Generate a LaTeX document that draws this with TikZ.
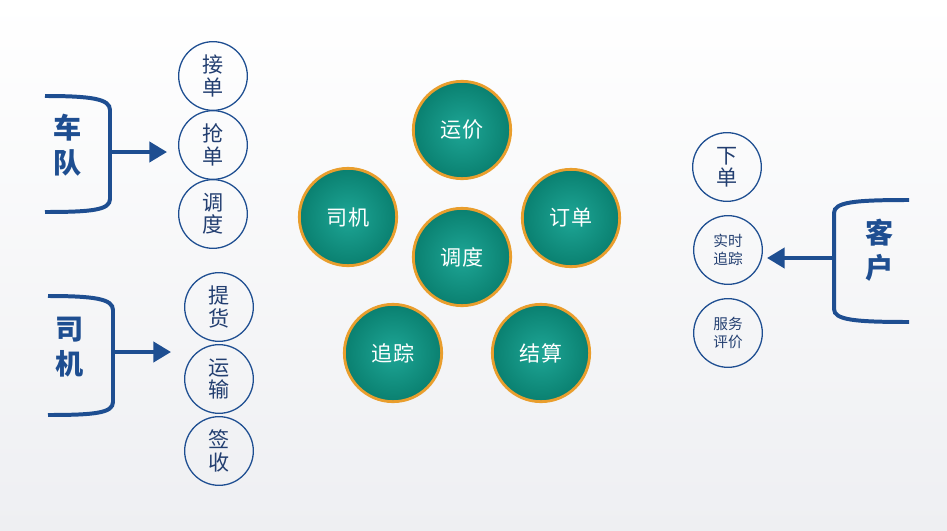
\documentclass[tikz,border=0pt]{standalone}
\usepackage{fontspec}
\newfontfamily\cjk{Noto Sans CJK SC}
\usetikzlibrary{arrows.meta}

\definecolor{linkblue}{RGB}{30,78,145}
\definecolor{inkblue}{RGB}{34,62,112}
\definecolor{hubteal}{RGB}{10,128,112}
\definecolor{hubglow}{RGB}{30,166,150}
\definecolor{hubrim}{RGB}{233,158,45}
\definecolor{paper}{RGB}{238,239,242}

\tikzset{
  ring/.style={circle, draw=linkblue, line width=1.1pt, minimum size=2.06cm, inner sep=0pt,
    align=center, text=inkblue, font=\cjk\fontsize{18}{19}\selectfont},
  smallring/.style={ring, font=\cjk\fontsize{12.5}{15}\selectfont},
  hub/.style={circle, draw=hubrim, line width=2.4pt, minimum size=2.92cm, inner sep=0pt,
    shading=radial, inner color=hubglow, outer color=hubteal,
    text=white, font=\cjk\fontsize{18}{20}\selectfont},
  bracket/.style={draw=linkblue, line width=3.4pt, line cap=butt},
  feed/.style={linkblue, line width=3.4pt, -{Triangle[length=15pt,width=17pt]}},
  tag/.style={align=center, text=linkblue, font=\cjk\bfseries\fontsize{24}{30}\selectfont}
}

\begin{document}
\begin{tikzpicture}[x=0.03cm, y=-0.03cm]
  \useasboundingbox (0,0) rectangle (947,531);
  \shade[top color=white, bottom color=paper] (0,0) rectangle (947,531);

  % fleet
  \draw[bracket] (45,96) .. controls (92,96) and (110,99) .. (110,110) -- (110,199)
    .. controls (110,210) and (92,212) .. (45,212);
  \coordinate (fleetmid) at (110,152);
  \node[tag] (fleet) at (68,145) {车\\队};
  \node[ring] (accept) at (213,76) {接\\单};
  \node[ring] (grab) at (213,145) {抢\\单};
  \node[ring] (assign) at (213,214) {调\\度};
  \draw[feed, shorten >=0.33cm] (fleetmid) -- (fleetmid -| grab.west);

  % driver
  \draw[bracket] (48,296) .. controls (95,296) and (113,299) .. (113,310) -- (113,402)
    .. controls (113,413) and (95,415) .. (48,415);
  \coordinate (drivermid) at (113,352);
  \node[tag] (driver) at (70,347) {司\\机};
  \node[ring] (pickup) at (219,307) {提\\货};
  \node[ring] (haul) at (219,379) {运\\输};
  \node[ring] (signoff) at (219,451) {签\\收};
  \draw[feed, shorten >=0.39cm] (drivermid) -- (drivermid -| haul.west);

  % hub
  \node[hub] (price) at (462,130) {运价};
  \node[hub] (drv) at (348,217) {司机};
  \node[hub] (order) at (571,218) {订单};
  \node[hub] (dispatch) at (462,257) {调度};
  \node[hub] (track) at (393,353) {追踪};
  \node[hub] (settle) at (541,353) {结算};

  % customer
  \draw[bracket] (909,200) .. controls (855,200) and (834,202) .. (834,213) -- (834,309)
    .. controls (834,320) and (855,322) .. (909,322);
  \coordinate (custmid) at (834,258);
  \node[tag] (cust) at (880,250) {客\\户};
  \node[ring] (place) at (727,167) {下\\单};
  \node[smallring] (live) at (728,250) {实时\\追踪};
  \node[smallring] (rate) at (728,333) {服务\\评价};
  \draw[feed, shorten >=0.12cm] (custmid) -- (custmid -| live.east);
\end{tikzpicture}
\end{document}
